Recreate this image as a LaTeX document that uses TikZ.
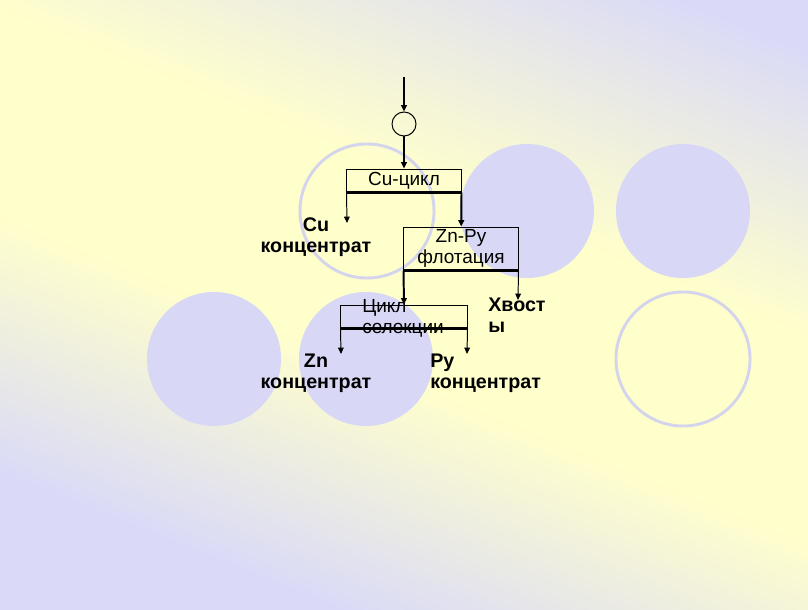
\documentclass[tikz,border=0pt]{standalone}
\usepackage{fontspec}
\setmainfont{Liberation Sans}
\usetikzlibrary{arrows.meta,positioning,calc}
\definecolor{bgyellow}{RGB}{255,255,204}
\definecolor{bglilac}{RGB}{218,218,248}
\definecolor{bubble}{RGB}{216,216,246}
\definecolor{ring}{RGB}{212,212,236}
\newcommand{\labfont}{\fontsize{13.5pt}{15pt}\selectfont}
\pgfdeclareverticalshading{slidebg}{100bp}{color(0bp)=(bglilac); color(27bp)=(bglilac);
  color(45bp)=(bgyellow); color(59bp)=(bgyellow); color(79bp)=(bglilac); color(100bp)=(bglilac)}

\begin{document}
\begin{tikzpicture}[
  x=0.025cm, y=-0.025cm,
  stage/.style={draw, line width=0.7pt, minimum width=2.85cm,
                minimum height=0.575cm, inner sep=1pt, font=\labfont, align=center},
  prod/.style={font=\fontsize{14pt}{15pt}\selectfont\bfseries, inner sep=0pt},
  arr/.style={-{Triangle[length=4.5pt,width=4pt]}, line width=0.7pt},
  flow/.style={arr, line width=1.4pt},
  base/.style={line width=1.6pt}
]
% background and decoration
\shade[shading=slidebg, shading angle=-22] (0,0) rectangle (808,610);
\foreach \cx/\cy in {527/211, 683/211, 214/359, 366/359}
  \fill[bubble] (\cx,\cy) circle[radius=1.675cm];
\foreach \cx/\cy in {367/211, 683/359}
  \draw[ring, line width=2.1pt] (\cx,\cy) circle[radius=1.675cm];

% stages
\coordinate (feed) at (404,77);
\node[circle, draw, line width=0.7pt, minimum size=0.6cm, inner sep=0pt] (mixer) at (404,124) {};
\node[stage] (cucycle) at (404,180.5) {Cu-цикл};
\node[stage, minimum height=1.075cm] (znpy) at (461,248.5) {Zn-Py\\флотация};
\node[stage, minimum width=3.15cm] (select) at (404,316.5) {};
\node[anchor=west, font=\labfont, align=left, inner sep=0pt] (selecttxt) at (362,318) {Цикл\\селекции};

% products
\node[prod, align=center] (cuconc) at (316,237) {Cu\\концентрат};
\node[prod, align=center] (znconc) at (316,373) {Zn\\концентрат};
\node[prod, align=left, anchor=west] (pyconc) at (430,373) {Py\\концентрат};
\node[prod, align=left, anchor=west] (tails) at (488,315) {Хвост\\ы};
\coordinate (cuout) at (347,223);
\coordinate (tailsout) at (518,300);
\coordinate (znout) at (341,354);
\coordinate (pyout) at (467,354);

% flows
\draw[flow] (feed) -- (mixer);
\draw[flow] (mixer) -- (cucycle);
\draw[base] (cucycle.south west) -- (cucycle.south east);
\draw[arr] (cucycle.south west) -- (cuout);
\draw[flow] (cucycle.south east) -- (znpy);
\draw[base] (znpy.south west) -- (znpy.south east);
\draw[flow] (znpy.south west) -- (select.north);
\draw[arr] (znpy.south east) -- (tailsout);
\draw[base] (select.south west) -- (select.south east);
\draw[arr] (select.south west) -- (znout);
\draw[arr] (select.south east) -- (pyout);
\end{tikzpicture}
\end{document}
